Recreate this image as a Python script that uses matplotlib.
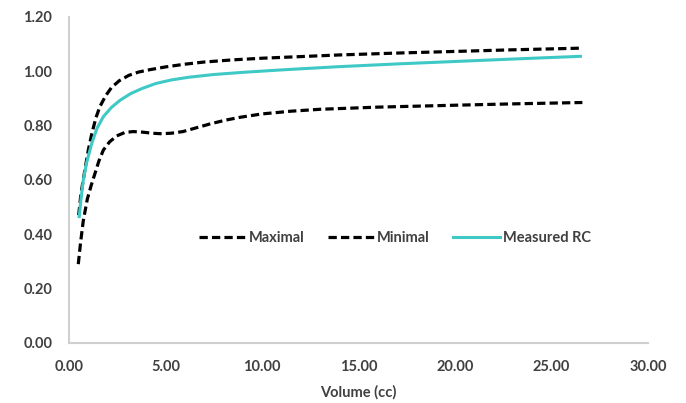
import matplotlib
matplotlib.use('Agg')
import matplotlib.pyplot as plt
from matplotlib.ticker import FormatStrFormatter

# values
maximal_x = [0.50, 0.62, 0.83, 1.0, 1.18, 1.4, 1.6, 1.9, 2.2, 2.6, 3.1, 3.6, 4.2, 5.0,
             6.0, 7.0, 8.5, 10.0, 12.0, 14.0, 17.0, 20.0, 23.0, 26.5]
maximal_y = [0.47, 0.55, 0.64, 0.71, 0.77, 0.83, 0.87, 0.91, 0.94, 0.965, 0.985, 0.997, 1.006, 1.016,
             1.026, 1.034, 1.042, 1.048, 1.054, 1.06, 1.067, 1.073, 1.079, 1.085]

minimal_x = [0.48, 0.6, 0.74, 0.95, 1.15, 1.35, 1.55, 1.78, 2.1, 2.47, 2.9, 3.33, 3.8, 4.3,
             4.8, 5.3, 5.9, 6.5, 7.3, 8.1, 8.9, 10.0, 11.5, 13.0, 16.0, 20.0, 23.0, 26.6]
minimal_y = [0.29, 0.37, 0.45, 0.53, 0.58, 0.625, 0.67, 0.71, 0.74, 0.762, 0.775, 0.778, 0.776, 0.772,
             0.77, 0.772, 0.778, 0.79, 0.806, 0.82, 0.831, 0.843, 0.853, 0.86, 0.868, 0.875, 0.88, 0.885]

measured_x = [0.53, 0.62, 0.74, 0.9, 1.18, 1.45, 1.78, 2.2, 2.64, 3.2, 3.8, 4.5, 5.3, 6.2,
              7.5, 9.0, 11.0, 14.0, 17.0, 20.0, 23.0, 26.5]
measured_y = [0.465, 0.53, 0.60, 0.66, 0.735, 0.79, 0.833, 0.867, 0.893, 0.918, 0.937, 0.955, 0.968, 0.978,
              0.988, 0.996, 1.005, 1.017, 1.027, 1.036, 1.045, 1.055]

x_ticks = [0, 5, 10, 15, 20, 25, 30]
y_ticks = [0, 0.2, 0.4, 0.6, 0.8, 1.0, 1.2]

plt.rcParams['font.family'] = ['Lato', 'DejaVu Sans']
text_col = '#404040'
cyan = '#3ec9c6'

fig = plt.figure(figsize=(6.86, 4.03), dpi=100)
ax = fig.add_axes([0.1006, 0.149, 0.844, 0.809])

ax.plot(maximal_x, maximal_y, color='black', lw=2.3, dashes=(2.6, 1.3),
        solid_joinstyle='round', label='Maximal')
ax.plot(minimal_x, minimal_y, color='black', lw=2.3, dashes=(2.6, 1.3),
        solid_joinstyle='round', label='Minimal')
ax.plot(measured_x, measured_y, color=cyan, lw=2.2, solid_joinstyle='round',
        label='Measured RC')

ax.set_xlim(0, 30)
ax.set_ylim(0, 1.2)
ax.set_xticks(x_ticks)
ax.set_yticks(y_ticks)
ax.xaxis.set_major_formatter(FormatStrFormatter('%.2f'))
ax.yaxis.set_major_formatter(FormatStrFormatter('%.2f'))
ax.tick_params(length=0, labelsize=10.5, colors=text_col, pad=12)
for lab in ax.get_xticklabels() + ax.get_yticklabels():
    lab.set_fontweight('bold')

for s in ['top', 'right']:
    ax.spines[s].set_visible(False)
for s in ['left', 'bottom']:
    ax.spines[s].set_color('#d0d0d0')
    ax.spines[s].set_linewidth(1.5)

ax.set_xlabel('Volume (cc)', fontsize=10.5, fontweight='bold', color=text_col, labelpad=8)

leg = ax.legend(loc='center', bbox_to_anchor=(0.563, 0.322), ncol=3, frameon=False,
                handlelength=3.2, handletextpad=0.2, columnspacing=1.6,
                prop={'size': 10.5, 'weight': 'bold'})
for t in leg.get_texts():
    t.set_color(text_col)

fig.savefig('out.png', dpi=100)
